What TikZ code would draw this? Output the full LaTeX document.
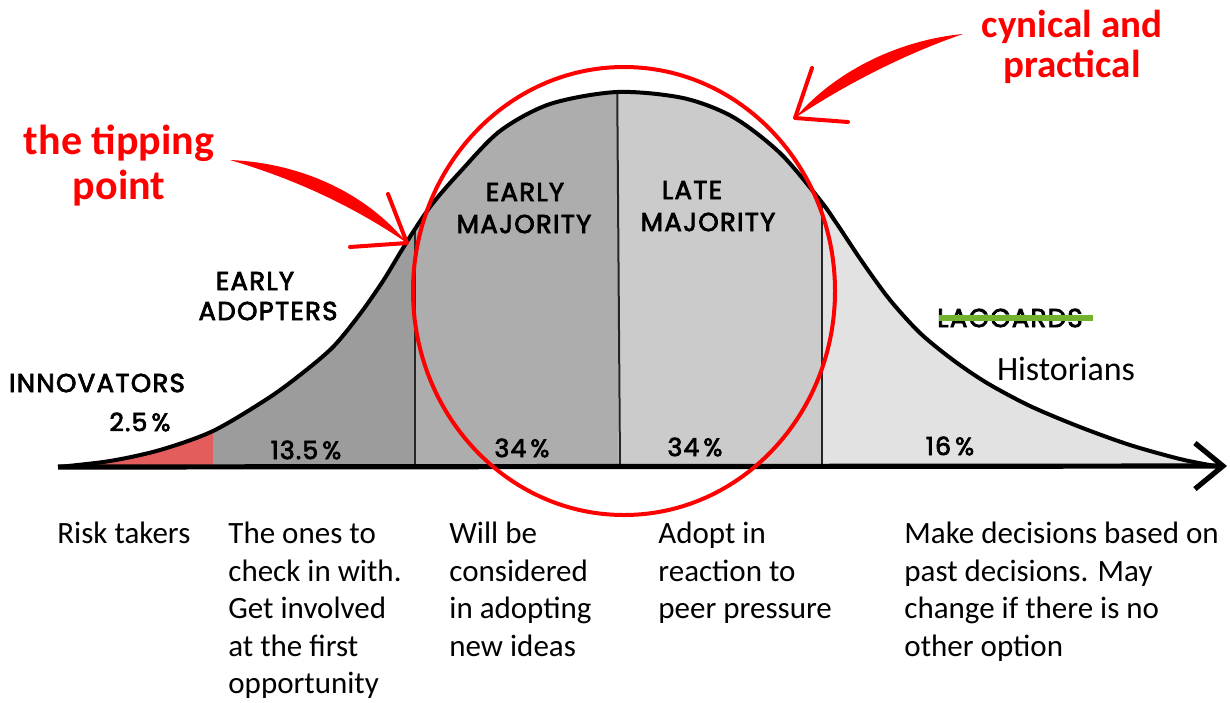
\documentclass[tikz,border=0pt]{standalone}
\usepackage{fontspec}
\setmainfont{Carlito}
\newfontfamily\handfont{Poppins}[FakeBold=3, LetterSpace=5]
\usetikzlibrary{arrows.meta,positioning}
\definecolor{inno}{HTML}{E35D5D}
\definecolor{g1}{HTML}{9C9C9C}
\definecolor{g2}{HTML}{ADADAD}
\definecolor{g3}{HTML}{CBCBCB}
\definecolor{g4}{HTML}{E2E2E2}
\definecolor{strike}{HTML}{72B22C}
\definecolor{pen}{HTML}{FF0000}

\begin{document}
\begin{tikzpicture}[x=0.5pt, y=-0.5pt,
  hand/.style={font=\handfont\fontsize{13}{15}\selectfont, inner sep=0pt},
  pct/.style={font=\handfont\fontsize{12.5}{14}\selectfont, inner sep=0pt},
  note/.style={font=\fontsize{15.5}{18.75}\selectfont, align=left, anchor=north west, inner sep=0pt},
  shout/.style={font=\bfseries\fontsize{21}{22.5}\selectfont, text=pen, align=center, inner sep=0pt},
  divider/.style={line width=1pt, black!85},
]
  \useasboundingbox (0,0) rectangle (1230,702);
  \def\bell{plot[smooth, tension=0.5] coordinates {
    (58,467) (110,461) (160,450) (213,431) (267,399) (300,375) (333,347)
    (360,314) (383,281) (400,253) (415,229) (433,203) (460,172) (500,131)
    (550,104) (617,92) (683,98) (733,117) (780,153) (820,200) (837,224)
    (863,263) (890,300) (920,333) (953,360) (987,383) (1030,406) (1080,427)
    (1130,445) (1180,459) (1215,466)}}

  % bands under the curve
  \begin{scope}
    \clip \bell -- cycle;
    \fill[inno] (0,0)    rectangle (213,470);
    \fill[g1]   (213,0)  rectangle (415,470);
    \fill[g2]   (415,0)  rectangle (618,470);
    \fill[g3]   (618,0)  rectangle (822,470);
    \fill[g4]   (822,0)  rectangle (1230,470);
    \draw[divider] (415,467) -- (415,60);
    \draw[divider] (620,467) -- (617,60);
    \draw[divider] (822,467) -- (822,60);
  \end{scope}
  \draw[line width=2pt, line join=round] \bell;

  % axis
  \coordinate (o) at (58,467);
  \coordinate (e) at (1227,466);
  \draw[line width=2.6pt, -{Straight Barb[length=14pt, width=23pt]}] (o) -- (e);

  % group names
  \node[hand] (inn) at (97,383) {INNOVATORS};
  \node[pct]  (p1) at (140,422) {2.5\,\%};
  \node[hand] (ea1) at (255,281) {EARLY};
  \node[hand] (ea2) at (268,311) {ADOPTERS};
  \node[hand] (em1) at (525,192) {EARLY};
  \node[hand] (em2) at (524,224) {MAJORITY};
  \node[hand] (lm1) at (692,190) {LATE};
  \node[hand] (lm2) at (708,222) {MAJORITY};
  \node[hand] (lag) at (1010,318) {LAGGARDS};
  \draw[strike, line width=3pt] ([xshift=1pt]lag.west) -- ([xshift=5pt]lag.east);
  \node[font=\fontsize{17}{20}\selectfont, inner sep=0pt] (hist) at (1066,369) {Historians};

  % shares
  \node[pct] (p2) at (306,450) {13.5\,\%};
  \node[pct] (p3) at (522,448) {34\,\%};
  \node[pct] (p4) at (695,447) {34\,\%};
  \node[pct] (p5) at (950,446) {16\,\%};

  % notes under the axis
  \node[note] (n1) at (57,522)  {Risk takers};
  \node[note] (n2) at (228,522) {The ones to\\check in with.\\Get involved\\at the first\\opportunity};
  \node[note] (n3) at (449,522) {Will be\\considered\\in adopting\\new ideas};
  \node[note] (n4) at (658,522) {Adopt in\\reaction to\\peer pressure};
  \node[note] (n5) at (904,522) {Make decisions based on\\past decisions. May\\change if there is no\\other option};

  % red marks
  \draw[pen, line width=2pt] (624,291) ellipse [x radius=211, y radius=224];
  \node[shout] (tp) at (119,166) {the tipping\\point};
  \node[shout, font=\bfseries\fontsize{19.5}{20}\selectfont] (cp) at (1072,47) {cynical and\\practical};

  \coordinate (tpa) at (230,160);
  \coordinate (tpb) at (407,243);
  \fill[pen] (tpa) .. controls (300,163) and (365,192) .. (tpb)
             .. controls (356,208) and (298,180) .. (tpa);
  \draw[pen, line width=2pt, line cap=round, line join=round] (388,194) -- (tpb) -- (350,247);

  \coordinate (cpa) at (963,34);
  \coordinate (cpb) at (795,118);
  \fill[pen] (cpa) .. controls (900,40) and (836,70) .. (cpb)
             .. controls (846,84) and (905,54) .. (cpa);
  \draw[pen, line width=2pt, line cap=round, line join=round] (812,68) -- (cpb) -- (848,122);
\end{tikzpicture}
\end{document}
